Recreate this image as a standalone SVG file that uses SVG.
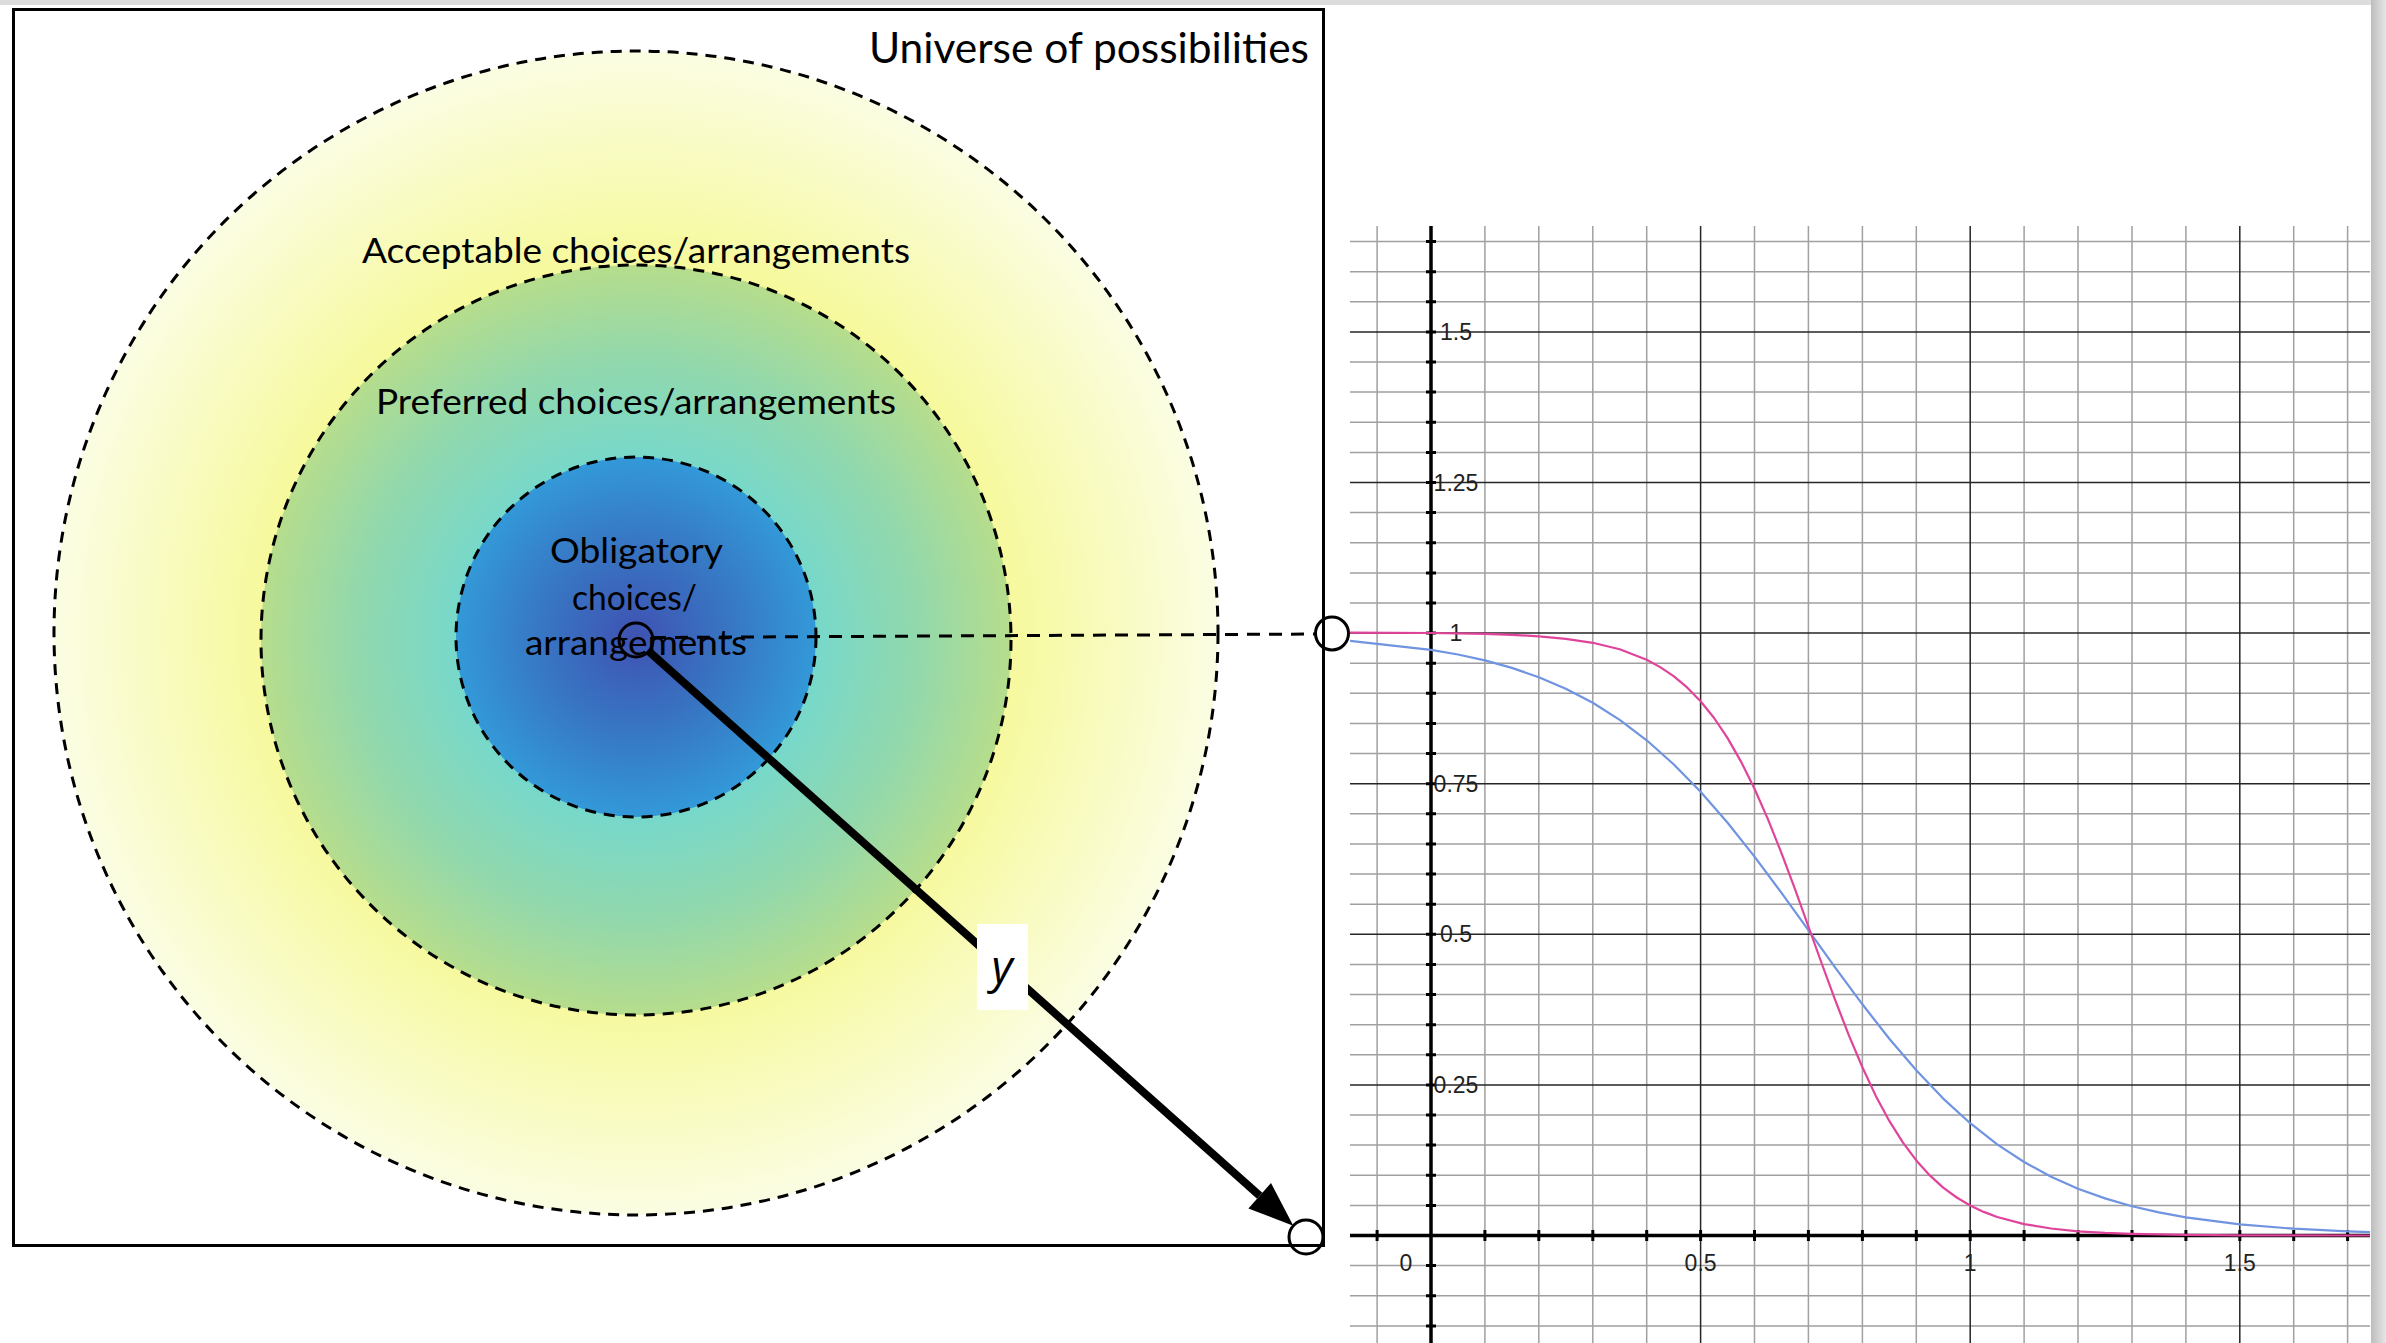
<svg xmlns="http://www.w3.org/2000/svg" width="2386" height="1343" viewBox="0 0 2386 1343">
<defs>
<style>
.lbl{font-family:Lato,"Open Sans","Liberation Sans",sans-serif;fill:#000;text-anchor:middle}
.ring{stroke:#000;stroke-width:3;stroke-dasharray:11 8}
.tick{font-family:"Liberation Sans",Arial,sans-serif;font-size:23px;fill:#222;text-anchor:middle}
.minor{stroke:#a0a0a0;stroke-width:1.5;fill:none}
.major{stroke:#262626;stroke-width:1.5;fill:none}
.axis{stroke:#000;stroke-width:3.5;fill:none}
.hole{fill:none;stroke:#000;stroke-width:3}
</style>
<radialGradient id="gOuter" cx="0.5" cy="0.5" r="0.5">
<stop offset="0" stop-color="#f2f785"/>
<stop offset="0.64" stop-color="#f6f99c"/>
<stop offset="1" stop-color="#fbfde3"/>
</radialGradient>
<radialGradient id="gMiddle" cx="0.5" cy="0.5" r="0.5">
<stop offset="0" stop-color="#6cd6d4"/>
<stop offset="0.48" stop-color="#77d8ca"/>
<stop offset="0.75" stop-color="#92d8ac"/>
<stop offset="1" stop-color="#b6dd8c"/>
</radialGradient>
<radialGradient id="gInner" cx="0.5" cy="0.5" r="0.5">
<stop offset="0" stop-color="#3f52b2"/>
<stop offset="0.55" stop-color="#3778c4"/>
<stop offset="1" stop-color="#3399d8"/>
</radialGradient>
<linearGradient id="gShadeR" x1="0" y1="0" x2="1" y2="0">
<stop offset="0" stop-color="#bdbdbd"/>
<stop offset="1" stop-color="#e6e6e6"/>
</linearGradient>
<marker id="head" markerUnits="userSpaceOnUse" viewBox="0 -17 45 34" refX="0" refY="0" markerWidth="45" markerHeight="34" orient="auto" overflow="visible">
<path d="M0,-17 L45,0 L0,17 z" fill="#000"/>
</marker>
</defs>

<rect x="0" y="0" width="2386" height="1343" fill="#dcdcdc"/>
<rect x="2371" y="0" width="15" height="1343" fill="url(#gShadeR)"/>
<rect x="0" y="5" width="2371" height="1338" fill="#fff"/>

<g id="universe">
<rect x="13.5" y="9.5" width="1310" height="1236" fill="none" stroke="#000" stroke-width="3"/>
<text class="lbl" x="1089" y="63" font-size="43" textLength="440" lengthAdjust="spacingAndGlyphs">Universe of possibilities</text>
</g>

<g id="ring-acceptable">
<circle cx="636" cy="633" r="582" fill="url(#gOuter)" class="ring"/>
<text class="lbl" x="636" y="263" font-size="35" textLength="548" lengthAdjust="spacingAndGlyphs">Acceptable choices/arrangements</text>
</g>

<g id="ring-preferred">
<circle cx="636" cy="640" r="375" fill="url(#gMiddle)" class="ring"/>
<text class="lbl" x="636" y="414" font-size="35" textLength="520" lengthAdjust="spacingAndGlyphs">Preferred choices/arrangements</text>
</g>

<g id="ring-obligatory">
<circle cx="636" cy="637" r="180" fill="url(#gInner)" class="ring"/>
<text class="lbl" x="636.5" y="563" font-size="35" textLength="173" lengthAdjust="spacingAndGlyphs">Obligatory</text>
<text class="lbl" x="634.5" y="610" font-size="35" textLength="125" lengthAdjust="spacingAndGlyphs">choices/</text>
<text class="lbl" x="636" y="655" font-size="35" textLength="222" lengthAdjust="spacingAndGlyphs">arrangements</text>
</g>

<g id="graph">
<path class="minor" d="M1350 1325.9H2370M1350 1295.7H2370M1350 1265.6H2370M1350 1205.4H2370M1350 1175.3H2370M1350 1145.1H2370M1350 1115H2370M1350 1054.8H2370M1350 1024.7H2370M1350 994.5H2370M1350 964.4H2370M1350 904.2H2370M1350 874.1H2370M1350 843.9H2370M1350 813.8H2370M1350 753.6H2370M1350 723.5H2370M1350 693.3H2370M1350 663.2H2370M1350 603H2370M1350 572.9H2370M1350 542.7H2370M1350 512.6H2370M1350 452.4H2370M1350 422.3H2370M1350 392.1H2370M1350 362H2370M1350 301.8H2370M1350 271.7H2370M1350 241.5H2370"/>
<path class="minor" d="M1377.1 226V1343M1484.9 226V1343M1538.8 226V1343M1592.8 226V1343M1646.7 226V1343M1754.5 226V1343M1808.4 226V1343M1862.4 226V1343M1916.3 226V1343M2024.1 226V1343M2078 226V1343M2132 226V1343M2185.9 226V1343M2293.7 226V1343M2347.6 226V1343"/>
<path class="major" d="M1350 1084.9H2370M1350 934.3H2370M1350 783.7H2370M1350 633.1H2370M1350 482.5H2370M1350 331.9H2370M1700.6 226V1343M1970.2 226V1343M2239.8 226V1343"/>
<path class="axis" d="M1431 226V1343M1350 1235.5H2370"/>
<path stroke="#000" stroke-width="3" fill="none" d="M1426 1325.9h10M1426 1295.7h10M1426 1265.6h10M1426 1205.4h10M1426 1175.3h10M1426 1145.1h10M1426 1115h10M1426 1084.9h10M1426 1054.8h10M1426 1024.7h10M1426 994.5h10M1426 964.4h10M1426 934.3h10M1426 904.2h10M1426 874.1h10M1426 843.9h10M1426 813.8h10M1426 783.7h10M1426 753.6h10M1426 723.5h10M1426 693.3h10M1426 663.2h10M1426 633.1h10M1426 603h10M1426 572.9h10M1426 542.7h10M1426 512.6h10M1426 482.5h10M1426 452.4h10M1426 422.3h10M1426 392.1h10M1426 362h10M1426 331.9h10M1426 301.8h10M1426 271.7h10M1426 241.5h10M1377.1 1230v11M1484.9 1230v11M1538.8 1230v11M1592.8 1230v11M1646.7 1230v11M1700.6 1230v11M1754.5 1230v11M1808.4 1230v11M1862.4 1230v11M1916.3 1230v11M1970.2 1230v11M2024.1 1230v11M2078 1230v11M2132 1230v11M2185.9 1230v11M2239.8 1230v11M2293.7 1230v11M2347.6 1230v11"/>
<text class="tick" x="1456" y="340">1.5</text>
<text class="tick" x="1456" y="490.5">1.25</text>
<text class="tick" x="1456" y="641">1</text>
<text class="tick" x="1456" y="791.5">0.75</text>
<text class="tick" x="1456" y="942">0.5</text>
<text class="tick" x="1456" y="1093">0.25</text>
<text class="tick" x="1406" y="1271">0</text>
<text class="tick" x="1700.6" y="1271">0.5</text>
<text class="tick" x="1970.2" y="1271">1</text>
<text class="tick" x="2239.8" y="1271">1.5</text>
<polyline fill="none" stroke="#7094e0" stroke-width="2.2" stroke-linejoin="round" points="1350.1,640.8 1431,649.8 1458,654.5 1484.9,660.4 1511.9,667.9 1538.8,677.2 1565.8,688.7 1592.8,702.8 1619.7,719.9 1646.7,740.3 1673.6,764.2 1700.6,791.7 1727.6,822.7 1754.5,856.6 1781.5,892.8 1808.4,930.2 1835.4,967.8 1862.4,1004.3 1889.3,1038.8 1916.3,1070.3 1943.2,1098.6 1970.2,1123.2 1997.2,1144.3 2024.1,1162 2051.1,1176.7 2078,1188.7 2105,1198.4 2132,1206.2 2158.9,1212.4 2185.9,1217.4 2239.8,1224.4 2293.7,1228.7 2347.6,1231.4 2370,1232.1"/>
<polyline fill="none" stroke="#e0449a" stroke-width="2.2" stroke-linejoin="round" points="1350.1,632.6 1431,633 1484.9,633.9 1511.9,634.8 1538.8,636.3 1565.8,638.8 1592.8,642.8 1619.7,649.3 1646.7,659.8 1660.2,667.1 1673.6,676.2 1687.1,687.4 1700.6,701.3 1714.1,718 1727.6,738.1 1741,761.6 1754.5,788.8 1768,819.4 1781.5,853.1 1795,889.1 1808.4,926.5 1821.9,964 1835.4,1000.7 1848.9,1035.4 1862.4,1067.3 1875.8,1095.9 1889.3,1120.9 1902.8,1142.4 1916.3,1160.4 1929.8,1175.4 1943.2,1187.6 1956.7,1197.5 1970.2,1205.5 1983.7,1211.9 1997.2,1217 2024.1,1224.1 2051.1,1228.5 2078,1231.3 2105,1232.9 2132,1233.9 2185.9,1234.9 2239.8,1235.3 2370,1235.5"/>
</g>

<g id="connectors">
<path d="M653 637.5L1316 634" fill="none" stroke="#000" stroke-width="3" stroke-dasharray="13 9"/>
<circle class="hole" cx="636" cy="640" r="17"/>
<circle class="hole" cx="1332" cy="633.5" r="16.5"/>
<circle class="hole" cx="1306" cy="1237" r="17"/>
<line x1="648.7" y1="651.3" x2="1259.7" y2="1195.8" stroke="#000" stroke-width="8" marker-end="url(#head)"/>
</g>

<g id="y-label">
<rect x="977" y="924" width="51" height="86" fill="#fff"/>
<text x="1002" y="983" font-family="'Open Sans',Lato,'Liberation Sans',sans-serif" font-style="italic" font-size="46" text-anchor="middle" fill="#000">y</text>
</g>
</svg>
